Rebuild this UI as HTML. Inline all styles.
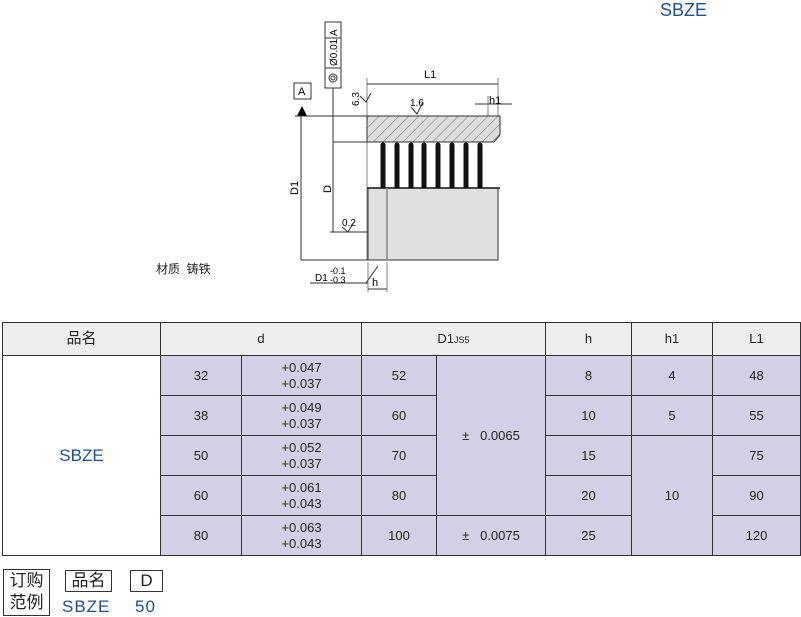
<!DOCTYPE html>
<html><head><meta charset="utf-8"><style>
body{margin:0;width:801px;height:617px;background:#fff;position:relative;overflow:hidden;font-family:"Liberation Sans","Noto Sans CJK SC",sans-serif;}
.a{position:absolute}
table{position:absolute;left:2px;top:322px;border-collapse:collapse;table-layout:fixed;font-size:13px;color:#222}
td{border:1px solid #333;text-align:center;padding:0;background:#d3d0e6;line-height:16px}
tr.h td{background:#eeeeee;height:32px}
tr.r td{height:39px}
.bl{color:#1f4e9a}
.box{position:absolute;border:1px solid #333;font-size:17px;text-align:center;line-height:20px;color:#222}
</style></head><body>
<div class="a bl" style="left:660px;top:0px;font-size:18px">SBZE</div>
<div class="a" style="left:156px;top:260px;font-size:12px;color:#222">材质&nbsp; 铸铁</div>
<svg class="a" style="left:0;top:0" width="801" height="300" font-family="Liberation Sans, sans-serif" font-size="10">
<defs><pattern id="ht" width="7" height="7" patternUnits="userSpaceOnUse" patternTransform="rotate(45)"><rect width="7" height="7" fill="#ddd"/><line x1="0" y1="0" x2="0" y2="7" stroke="#555" stroke-width="0.8"/></pattern></defs>
<rect x="325" y="22" width="16" height="66" fill="#fff" stroke="#333"/>
<line x1="325" y1="38" x2="341" y2="38" stroke="#333"/><line x1="325" y1="68" x2="341" y2="68" stroke="#333"/>
<text transform="translate(337,36) rotate(-90)" font-size="10">A</text>
<text transform="translate(337,66) rotate(-90)" font-size="10">Ø0.01</text>
<circle cx="333" cy="78" r="4" fill="none" stroke="#333"/><circle cx="333" cy="78" r="2" fill="none" stroke="#333"/>
<line x1="333" y1="88" x2="333" y2="232" stroke="#333"/>
<rect x="294" y="83" width="17" height="16" fill="#fff" stroke="#333"/><text x="298" y="95" font-size="11">A</text>
<polygon points="297,116 307,116 302,106" fill="#000"/>
<line x1="295" y1="116" x2="500" y2="116" stroke="#333"/>
<line x1="301" y1="116" x2="301" y2="260" stroke="#333"/>
<text transform="translate(298,195) rotate(-90)" font-size="11">D1</text>
<text transform="translate(331,193) rotate(-90)" font-size="11">D</text>
<line x1="333" y1="142" x2="370" y2="142" stroke="#333"/>
<line x1="330" y1="232" x2="368" y2="232" stroke="#333"/>
<text x="342" y="226" font-size="10">0.2</text><polyline points="342,227 348,232 354,222" fill="none" stroke="#333"/>
<path d="M367,116 H500 V135 L494,142 H367 Z" fill="url(#ht)" stroke="#333"/>
<g stroke="#111" stroke-width="5" stroke-linecap="round"><line x1="383" y1="145" x2="383" y2="188"/><line x1="397" y1="145" x2="397" y2="188"/><line x1="411" y1="145" x2="411" y2="188"/><line x1="424" y1="145" x2="424" y2="188"/><line x1="438" y1="145" x2="438" y2="188"/><line x1="452" y1="145" x2="452" y2="188"/><line x1="466" y1="145" x2="466" y2="188"/><line x1="480" y1="145" x2="480" y2="188"/></g>
<rect x="368" y="188" width="130" height="72" fill="#e0e0e0" stroke="#333"/>
<line x1="367" y1="188" x2="500" y2="188" stroke="#111" stroke-width="1.5"/>
<line x1="387" y1="188" x2="387" y2="260" stroke="#888" stroke-width="1.5"/>
<line x1="301" y1="260" x2="368" y2="260" stroke="#333"/>
<line x1="367" y1="78" x2="367" y2="260" stroke="#333" stroke-width="0.6"/>
<line x1="498" y1="78" x2="498" y2="116" stroke="#333" stroke-width="0.6"/>
<line x1="367" y1="84" x2="498" y2="84" stroke="#333"/><text x="424" y="78" font-size="11">L1</text>
<text transform="translate(359,106) rotate(-90)" font-size="10">6.3</text><polyline points="360,96 366,102 371,93" fill="none" stroke="#333"/>
<text x="410" y="106" font-size="10">1.6</text><polyline points="411,107 417,114 423,102" fill="none" stroke="#333"/>
<line x1="475" y1="104" x2="512" y2="104" stroke="#333"/><line x1="488" y1="96" x2="488" y2="116" stroke="#333" stroke-width="0.6"/>
<text x="489" y="104" font-size="11">h1</text>
<line x1="368" y1="262" x2="368" y2="292" stroke="#333" stroke-width="0.6"/><line x1="387" y1="262" x2="387" y2="292" stroke="#333" stroke-width="0.6"/>
<line x1="368" y1="289" x2="387" y2="289" stroke="#333"/><text x="372" y="286" font-size="11">h</text>
<line x1="310" y1="283" x2="368" y2="283" stroke="#333"/><line x1="366" y1="283" x2="378" y2="266" stroke="#333"/>
<text x="315" y="281" font-size="10">D1</text><text x="330" y="274" font-size="9">-0.1</text><text x="330" y="283" font-size="9">-0.3</text>
</svg>
<table>
<colgroup><col style="width:158px"><col style="width:81px"><col style="width:120px"><col style="width:75px"><col style="width:109px"><col style="width:86px"><col style="width:81px"><col style="width:88px"></colgroup>
<tr class="h"><td style="font-size:15px">品名</td><td colspan="2">d</td><td colspan="2">D1<span style="font-size:9px">JS5</span></td><td>h</td><td>h1</td><td>L1</td></tr>
<tr class="r"><td rowspan="5" style="background:#fff;font-size:17px" class="bl">SBZE</td><td>32</td><td>+0.047<br>+0.037</td><td>52</td><td rowspan="4">±&nbsp;&nbsp; 0.0065</td><td>8</td><td>4</td><td>48</td></tr>
<tr class="r"><td>38</td><td>+0.049<br>+0.037</td><td>60</td><td>10</td><td>5</td><td>55</td></tr>
<tr class="r"><td>50</td><td>+0.052<br>+0.037</td><td>70</td><td>15</td><td rowspan="3">10</td><td>75</td></tr>
<tr class="r"><td>60</td><td>+0.061<br>+0.043</td><td>80</td><td>20</td><td>90</td></tr>
<tr class="r"><td>80</td><td>+0.063<br>+0.043</td><td>100</td><td>±&nbsp;&nbsp; 0.0075</td><td>25</td><td>120</td></tr>
</table>
<div class="box" style="left:3px;top:569px;width:45px;height:45px;line-height:22px">订购<br>范例</div>
<div class="box" style="left:65px;top:570px;width:45px;height:20px">品名</div>
<div class="box" style="left:130px;top:570px;width:31px;height:20px">D</div>
<div class="a bl" style="left:62px;top:597px;font-size:17px;letter-spacing:1px">SBZE</div>
<div class="a bl" style="left:135px;top:597px;font-size:17px;letter-spacing:1px">50</div>
</body></html>
